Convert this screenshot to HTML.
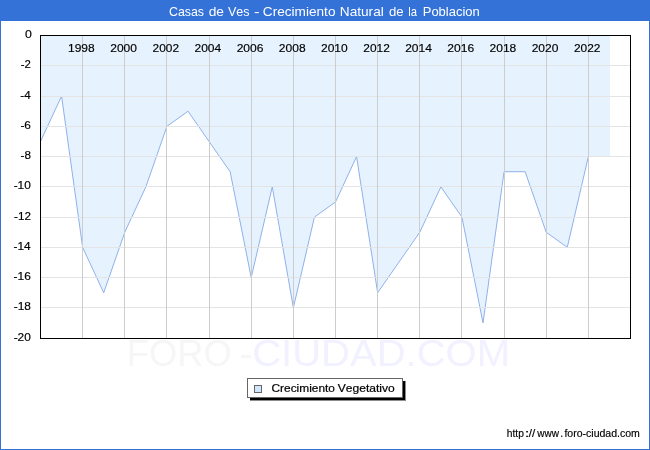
<!DOCTYPE html>
<html><head><meta charset="utf-8"><title>Casas de Ves - Crecimiento Natural de la Poblacion</title>
<style>
html,body{margin:0;padding:0;background:#fff;}
body{width:650px;height:450px;overflow:hidden;position:relative;font-family:"Liberation Sans",sans-serif;}
svg{position:absolute;left:0;top:0;display:block;will-change:transform;}
text{font-family:"Liberation Sans",sans-serif;font-kerning:none;white-space:pre;}
</style></head><body>
<svg width="650" height="450" viewBox="0 0 650 450">
<rect x="0" y="0" width="650" height="450" fill="#ffffff"/>
<!-- frame -->
<rect x="0" y="0" width="650" height="21" fill="#3472d8"/>
<rect x="0" y="20" width="650" height="1" fill="#3472d8"/>
<rect x="0" y="0" width="1" height="450" fill="#3472d8"/>
<rect x="649" y="0" width="1" height="450" fill="#3472d8"/>
<rect x="0" y="449" width="650" height="1" fill="#3472d8"/>
<text y="15.70" font-size="12.70" fill="#ffffff"><tspan x="168.97" textLength="35.08" lengthAdjust="spacingAndGlyphs">Casas</tspan> <tspan x="208.72" textLength="15.29" lengthAdjust="spacingAndGlyphs">de</tspan> <tspan x="227.94" textLength="21.61" lengthAdjust="spacingAndGlyphs">Ves</tspan> <tspan x="253.94" textLength="5.73" lengthAdjust="spacingAndGlyphs">-</tspan> <tspan x="262.81" textLength="72.66" lengthAdjust="spacingAndGlyphs">Crecimiento</tspan> <tspan x="339.78" textLength="44.03" lengthAdjust="spacingAndGlyphs">Natural</tspan> <tspan x="388.95" textLength="14.64" lengthAdjust="spacingAndGlyphs">de</tspan> <tspan x="408.34" textLength="8.76" lengthAdjust="spacingAndGlyphs">la</tspan> <tspan x="422.73" textLength="57.11" lengthAdjust="spacingAndGlyphs">Poblacion</tspan></text>
<text y="366.30" font-size="36.30" fill="#f6f6f6"><tspan x="126.72" textLength="104.92" lengthAdjust="spacingAndGlyphs" fill="#f6f6f6">FORO</tspan><tspan x="239.43" textLength="13.23" lengthAdjust="spacingAndGlyphs" fill="#f6f6f6">-</tspan><tspan x="252.17" textLength="257.92" lengthAdjust="spacingAndGlyphs" fill="#f1f1ff">CIUDAD.COM</tspan></text>
<path d="M40.50,36.00 L40.50,141.47 L61.57,96.10 L82.64,247.35 L103.71,292.73 L124.79,232.22 L145.86,186.85 L166.93,126.35 L188.00,111.22 L209.07,141.47 L230.14,171.72 L251.21,277.60 L272.29,186.85 L293.36,307.85 L314.43,217.10 L335.50,201.97 L356.57,156.60 L377.64,292.73 L398.71,262.48 L419.79,232.22 L440.86,186.85 L461.93,217.10 L483.00,322.98 L504.07,171.72 L525.14,171.72 L546.21,232.22 L567.29,247.35 L588.36,156.60 L610.00,156.60 L610.00,36.00 Z" fill="#e6f3fe" shape-rendering="crispEdges"/>
<polyline points="40.50,141.47 61.57,96.10 82.64,247.35 103.71,292.73 124.79,232.22 145.86,186.85 166.93,126.35 188.00,111.22 209.07,141.47 230.14,171.72 251.21,277.60 272.29,186.85 293.36,307.85 314.43,217.10 335.50,201.97 356.57,156.60 377.64,292.73 398.71,262.48 419.79,232.22 440.86,186.85 461.93,217.10 483.00,322.98 504.07,171.72 525.14,171.72 546.21,232.22 567.29,247.35 588.36,156.60" fill="none" stroke="#8fb1ea" stroke-width="1" stroke-linejoin="round"/>
<rect x="41" y="65" width="589" height="1" fill="#e4e4e4"/>
<rect x="41" y="96" width="589" height="1" fill="#e4e4e4"/>
<rect x="41" y="126" width="589" height="1" fill="#e4e4e4"/>
<rect x="41" y="156" width="589" height="1" fill="#e4e4e4"/>
<rect x="41" y="186" width="589" height="1" fill="#e4e4e4"/>
<rect x="41" y="217" width="589" height="1" fill="#e4e4e4"/>
<rect x="41" y="247" width="589" height="1" fill="#e4e4e4"/>
<rect x="41" y="277" width="589" height="1" fill="#e4e4e4"/>
<rect x="41" y="307" width="589" height="1" fill="#e4e4e4"/>
<rect x="82" y="36" width="1" height="302" fill="#cdcdcd"/>
<rect x="124" y="36" width="1" height="302" fill="#cdcdcd"/>
<rect x="166" y="36" width="1" height="302" fill="#cdcdcd"/>
<rect x="209" y="36" width="1" height="302" fill="#cdcdcd"/>
<rect x="251" y="36" width="1" height="302" fill="#cdcdcd"/>
<rect x="293" y="36" width="1" height="302" fill="#cdcdcd"/>
<rect x="335" y="36" width="1" height="302" fill="#cdcdcd"/>
<rect x="377" y="36" width="1" height="302" fill="#cdcdcd"/>
<rect x="419" y="36" width="1" height="302" fill="#cdcdcd"/>
<rect x="461" y="36" width="1" height="302" fill="#cdcdcd"/>
<rect x="504" y="36" width="1" height="302" fill="#cdcdcd"/>
<rect x="546" y="36" width="1" height="302" fill="#cdcdcd"/>
<rect x="588" y="36" width="1" height="302" fill="#cdcdcd"/>
<rect x="40.5" y="35.5" width="590" height="303" fill="none" stroke="#000" stroke-width="1" shape-rendering="crispEdges"/>
<text y="52.10" font-size="10.90" fill="#000" stroke="#000" stroke-width="0.16"><tspan x="68.00" textLength="26.69" lengthAdjust="spacingAndGlyphs">1998</tspan></text>
<text y="52.10" font-size="10.90" fill="#000" stroke="#000" stroke-width="0.16"><tspan x="110.25" textLength="26.74" lengthAdjust="spacingAndGlyphs">2000</tspan></text>
<text y="52.10" font-size="10.90" fill="#000" stroke="#000" stroke-width="0.16"><tspan x="152.58" textLength="26.50" lengthAdjust="spacingAndGlyphs">2002</tspan></text>
<text y="52.10" font-size="10.90" fill="#000" stroke="#000" stroke-width="0.16"><tspan x="194.48" textLength="26.73" lengthAdjust="spacingAndGlyphs">2004</tspan></text>
<text y="52.10" font-size="10.90" fill="#000" stroke="#000" stroke-width="0.16"><tspan x="236.66" textLength="26.84" lengthAdjust="spacingAndGlyphs">2006</tspan></text>
<text y="52.10" font-size="10.90" fill="#000" stroke="#000" stroke-width="0.16"><tspan x="278.83" textLength="26.77" lengthAdjust="spacingAndGlyphs">2008</tspan></text>
<text y="52.10" font-size="10.90" fill="#000" stroke="#000" stroke-width="0.16"><tspan x="320.96" textLength="26.74" lengthAdjust="spacingAndGlyphs">2010</tspan></text>
<text y="52.10" font-size="10.90" fill="#000" stroke="#000" stroke-width="0.16"><tspan x="363.29" textLength="26.50" lengthAdjust="spacingAndGlyphs">2012</tspan></text>
<text y="52.10" font-size="10.90" fill="#000" stroke="#000" stroke-width="0.16"><tspan x="405.19" textLength="26.73" lengthAdjust="spacingAndGlyphs">2014</tspan></text>
<text y="52.10" font-size="10.90" fill="#000" stroke="#000" stroke-width="0.16"><tspan x="447.37" textLength="26.84" lengthAdjust="spacingAndGlyphs">2016</tspan></text>
<text y="52.10" font-size="10.90" fill="#000" stroke="#000" stroke-width="0.16"><tspan x="489.54" textLength="26.77" lengthAdjust="spacingAndGlyphs">2018</tspan></text>
<text y="52.10" font-size="10.90" fill="#000" stroke="#000" stroke-width="0.16"><tspan x="531.68" textLength="26.74" lengthAdjust="spacingAndGlyphs">2020</tspan></text>
<text y="52.10" font-size="10.90" fill="#000" stroke="#000" stroke-width="0.16"><tspan x="574.01" textLength="26.50" lengthAdjust="spacingAndGlyphs">2022</tspan></text>
<text y="38.00" font-size="10.90" fill="#000" stroke="#000" stroke-width="0.16"><tspan x="25.02" textLength="6.86" lengthAdjust="spacingAndGlyphs">0</tspan></text>
<text y="68.00" font-size="10.90" fill="#000" stroke="#000" stroke-width="0.16"><tspan x="20.84" textLength="10.13" lengthAdjust="spacingAndGlyphs">-2</tspan></text>
<text y="99.00" font-size="10.90" fill="#000" stroke="#000" stroke-width="0.16"><tspan x="20.36" textLength="10.38" lengthAdjust="spacingAndGlyphs">-4</tspan></text>
<text y="129.00" font-size="10.90" fill="#000" stroke="#000" stroke-width="0.16"><tspan x="20.43" textLength="10.49" lengthAdjust="spacingAndGlyphs">-6</tspan></text>
<text y="159.00" font-size="10.90" fill="#000" stroke="#000" stroke-width="0.16"><tspan x="20.49" textLength="10.42" lengthAdjust="spacingAndGlyphs">-8</tspan></text>
<text y="189.00" font-size="10.90" fill="#000" stroke="#000" stroke-width="0.16"><tspan x="13.67" textLength="17.19" lengthAdjust="spacingAndGlyphs">-10</tspan></text>
<text y="220.00" font-size="10.90" fill="#000" stroke="#000" stroke-width="0.16"><tspan x="14.04" textLength="16.95" lengthAdjust="spacingAndGlyphs">-12</tspan></text>
<text y="250.00" font-size="10.90" fill="#000" stroke="#000" stroke-width="0.16"><tspan x="13.56" textLength="17.18" lengthAdjust="spacingAndGlyphs">-14</tspan></text>
<text y="280.00" font-size="10.90" fill="#000" stroke="#000" stroke-width="0.16"><tspan x="13.63" textLength="17.29" lengthAdjust="spacingAndGlyphs">-16</tspan></text>
<text y="310.00" font-size="10.90" fill="#000" stroke="#000" stroke-width="0.16"><tspan x="13.69" textLength="17.22" lengthAdjust="spacingAndGlyphs">-18</tspan></text>
<text y="341.00" font-size="10.90" fill="#000" stroke="#000" stroke-width="0.16"><tspan x="13.67" textLength="17.19" lengthAdjust="spacingAndGlyphs">-20</tspan></text>
<rect x="250" y="381" width="156" height="20" fill="#8c8c8c"/>
<rect x="250" y="381" width="155" height="19" fill="#000"/>
<rect x="247.5" y="378.5" width="155" height="19" fill="#fff" stroke="#666" stroke-width="1" shape-rendering="crispEdges"/>
<rect x="254.5" y="385.5" width="7" height="7" fill="#cfe8fd" stroke="#666" stroke-width="1" shape-rendering="crispEdges"/>
<text y="392.00" font-size="11.00" fill="#000" stroke="#000" stroke-width="0.2"><tspan x="271.50" textLength="63.40" lengthAdjust="spacingAndGlyphs">Crecimiento</tspan> <tspan x="337.75" textLength="56.96" lengthAdjust="spacingAndGlyphs">Vegetativo</tspan></text>
<text y="436.80" font-size="10.20" fill="#000" stroke="#000" stroke-width="0.15"><tspan x="506.79" textLength="17.14" lengthAdjust="spacingAndGlyphs">http</tspan><tspan x="524.67" textLength="4.67" lengthAdjust="spacingAndGlyphs">:</tspan><tspan x="528.80" textLength="6.50" lengthAdjust="spacingAndGlyphs">//</tspan><tspan x="537.21" textLength="21.76" lengthAdjust="spacingAndGlyphs">www</tspan><tspan x="560.24" textLength="2.92" lengthAdjust="spacingAndGlyphs">.</tspan><tspan x="564.45" textLength="75.44" lengthAdjust="spacingAndGlyphs">foro-ciudad.com</tspan></text>
</svg>
</body></html>
